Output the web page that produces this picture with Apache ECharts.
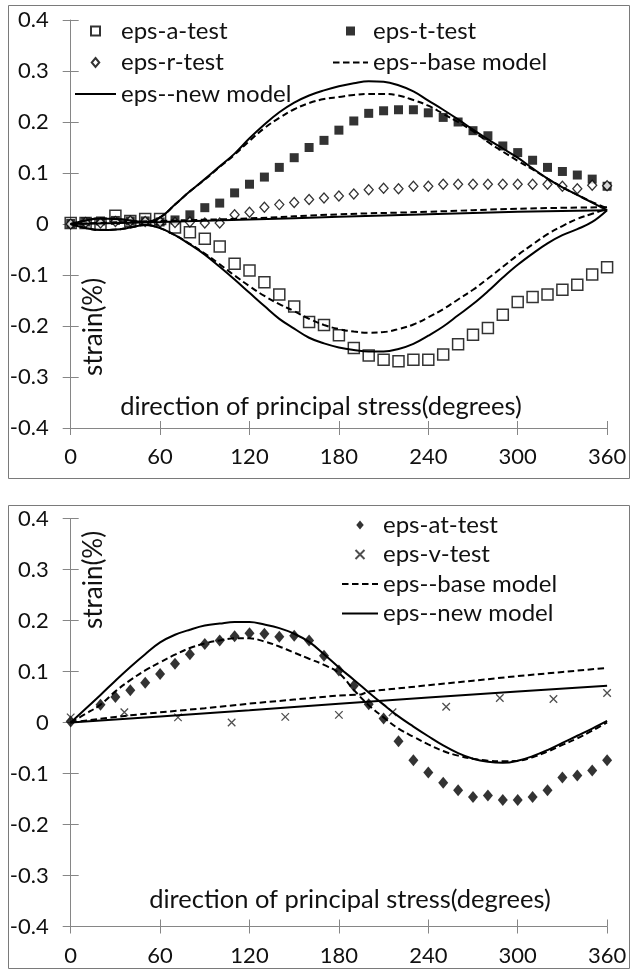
<!DOCTYPE html>
<html><head><meta charset="utf-8">
<script src="https://cdn.jsdelivr.net/npm/echarts@6/dist/echarts.min.js"></script>
<style>html,body{margin:0;padding:0;background:#fff}#c{width:632px;height:972px}</style>
</head><body><div id="c"></div>
<script>
// ---------- DATA ----------
const xTicks = [0, 60, 120, 180, 240, 300, 360];
const yTicks = [-0.4, -0.3, -0.2, -0.1, 0, 0.1, 0.2, 0.3, 0.4];

// top chart: tests every 10 degrees
const topX = [0,10,20,30,40,50,60,70,80,90,100,110,120,130,140,150,160,170,180,190,200,210,220,230,240,250,260,270,280,290,300,310,320,330,340,350,360];
const epsATest = [0.002,0.002,0,0.016,0.006,0.01,0.01,-0.007,-0.016,-0.029,-0.044,-0.078,-0.091,-0.114,-0.138,-0.162,-0.192,-0.198,-0.218,-0.243,-0.258,-0.266,-0.269,-0.266,-0.266,-0.256,-0.236,-0.217,-0.204,-0.178,-0.153,-0.143,-0.138,-0.129,-0.119,-0.099,-0.085];
const epsTTest = [0.001,0.004,0.006,0.007,0.006,0.006,0.004,0.008,0.018,0.032,0.041,0.061,0.078,0.092,0.111,0.13,0.15,0.164,0.184,0.202,0.217,0.222,0.224,0.224,0.218,0.209,0.2,0.183,0.173,0.153,0.14,0.125,0.111,0.103,0.096,0.088,0.074];
const epsRTest = [0,0.003,0.002,0.005,0.006,0.005,0.004,0.003,0.004,0.002,0.002,0.018,0.023,0.033,0.038,0.042,0.048,0.051,0.055,0.059,0.067,0.07,0.069,0.074,0.074,0.078,0.078,0.078,0.078,0.078,0.078,0.078,0.078,0.074,0.069,0.076,0.075];

// top chart model curves (same angle grid)
const newT  = [0,0.007,0.011,0.01,0.007,0.004,0.013,0.038,0.064,0.088,0.113,0.138,0.168,0.195,0.219,0.238,0.252,0.262,0.27,0.276,0.28,0.279,0.272,0.26,0.242,0.224,0.205,0.185,0.166,0.148,0.13,0.109,0.089,0.072,0.057,0.042,0.027];
const baseT = [0,0.007,0.011,0.01,0.007,0.004,0.013,0.038,0.064,0.087,0.112,0.136,0.163,0.188,0.208,0.225,0.237,0.245,0.249,0.253,0.255,0.255,0.252,0.243,0.232,0.216,0.2,0.182,0.161,0.142,0.124,0.107,0.089,0.072,0.057,0.043,0.031];
const newA  = [0,-0.008,-0.012,-0.011,-0.007,-0.002,-0.008,-0.022,-0.04,-0.06,-0.084,-0.109,-0.135,-0.161,-0.186,-0.205,-0.223,-0.234,-0.242,-0.247,-0.25,-0.25,-0.245,-0.235,-0.219,-0.201,-0.179,-0.157,-0.132,-0.105,-0.08,-0.058,-0.038,-0.022,-0.01,0.004,0.027];
const baseA = [0,-0.008,-0.012,-0.011,-0.007,-0.002,-0.008,-0.022,-0.039,-0.058,-0.079,-0.101,-0.122,-0.141,-0.157,-0.171,-0.186,-0.198,-0.206,-0.211,-0.213,-0.212,-0.206,-0.197,-0.183,-0.167,-0.148,-0.129,-0.107,-0.084,-0.061,-0.04,-0.02,-0.004,0.01,0.02,0.03];
const rModelX = [0,60,120,180,240,300,360];
const newR  = [0,0.004,0.009,0.014,0.019,0.024,0.027];
const baseR = [0,0.006,0.011,0.019,0.024,0.03,0.033];

// bottom chart tests
const atX = [0,20,30,40,50,60,70,80,90,100,110,120,130,140,150,160,170,180,190,200,210,220,230,240,250,260,270,280,290,300,310,320,330,340,350,360];
const epsAtTest = [0.002,0.035,0.05,0.063,0.078,0.095,0.115,0.134,0.154,0.161,0.169,0.175,0.174,0.168,0.17,0.161,0.131,0.102,0.072,0.036,0.008,-0.037,-0.074,-0.098,-0.118,-0.133,-0.146,-0.143,-0.152,-0.152,-0.146,-0.133,-0.108,-0.104,-0.094,-0.074];
const vX = [0,36,72,108,144,180,216,252,288,324,360];
const epsVTest = [0.01,0.02,0.01,0,0.011,0.015,0.02,0.031,0.048,0.046,0.058];

// bottom chart model curves
const botX = topX;
const newAt  = [0,0.027,0.054,0.082,0.109,0.134,0.157,0.172,0.182,0.19,0.194,0.197,0.197,0.192,0.185,0.174,0.158,0.134,0.108,0.084,0.059,0.035,0.012,-0.008,-0.027,-0.045,-0.06,-0.071,-0.077,-0.079,-0.075,-0.066,-0.054,-0.04,-0.026,-0.012,0.003];
const baseAt = [0,0.017,0.035,0.061,0.083,0.102,0.118,0.133,0.146,0.155,0.161,0.165,0.165,0.159,0.149,0.137,0.125,0.113,0.097,0.064,0.034,0.01,-0.012,-0.028,-0.043,-0.056,-0.065,-0.071,-0.075,-0.076,-0.075,-0.068,-0.057,-0.044,-0.031,-0.016,0];
const baseVX = [0,30,60,90,120,150,180,195,200,240,270,300,330,360];
const baseV  = [0,0.011,0.02,0.028,0.037,0.045,0.053,0.055,0.061,0.073,0.082,0.091,0.099,0.107];
const newVX = [0,60,120,180,240,300,360];
const newV  = [0,0.012,0.024,0.037,0.049,0.061,0.072];

// ---------- CHART ----------
const pair = (xs, ys) => xs.map((x, i) => [x, ys[i]]);
const FONT = 'Lato';
const TXT = '#111';
const AX = '#868686';

function xAx(grid, main) {
  return {
    type: 'value', gridIndex: grid, min: 0, max: 360, interval: 60, position: 'bottom',
    axisLine: { show: main, onZero: false, lineStyle: { color: AX, width: 1 } },
    axisTick: { show: true, inside: !main, length: 7, lineStyle: { color: AX } },
    axisLabel: { show: main, margin: 18, fontFamily: FONT, fontSize: 22, color: TXT },
    splitLine: { show: false }
  };
}
function yAx(grid, main) {
  return {
    type: 'value', gridIndex: grid, min: -0.4, max: 0.4, interval: 0.1, position: 'left',
    axisLine: { show: main, onZero: false, lineStyle: { color: AX, width: 1 } },
    axisTick: { show: true, inside: !main, length: 8, lineStyle: { color: AX } },
    axisLabel: { show: main, margin: 22, fontFamily: FONT, fontSize: 22, color: TXT,
      formatter: v => String(Math.round(v * 10) / 10) },
    splitLine: { show: false }
  };
}

const SQ = 'path://M0,0H10V10H0Z';
const DI = 'path://M5,0L10,6L5,12L0,6Z';
const CR = 'path://M0,0L10,10M10,0L0,10';
const openSq = { symbol: SQ, symbolSize: 11, itemStyle: { color: '#fff', borderColor: '#000', borderWidth: 1.5 } };
const fillSq = { symbol: SQ, symbolSize: 9, itemStyle: { color: '#000' } };
const openDi = { symbol: DI, symbolSize: [9, 10], itemStyle: { color: '#fff', borderColor: '#000', borderWidth: 1.3 } };
const fillDi = { symbol: DI, symbolSize: [10, 12], itemStyle: { color: '#000' } };
const cross = { symbol: CR, symbolSize: 7.5, itemStyle: { color: 'none', borderColor: '#222', borderWidth: 1.3 } };

function sc(name, xi, xs, ys, st) {
  return Object.assign({ type: 'scatter', name, xAxisIndex: xi, yAxisIndex: xi, data: pair(xs, ys), z: 3, animation: false }, st);
}
function ln(name, xi, xs, ys, dashed, smooth) {
  return { type: 'line', name, xAxisIndex: xi, yAxisIndex: xi, data: pair(xs, ys), symbol: 'none',
    smooth: smooth ? 0.4 : false, z: 4, animation: false,
    lineStyle: { color: '#000', width: 2, type: dashed ? [6.5, 3.5] : 'solid' },
    itemStyle: { color: '#000' } };
}

const legendText = { fontFamily: FONT, fontSize: 24, color: TXT, lineHeight: 24 };
const noDot = { opacity: 0 };
const lgBase = { name: 'eps--base model', itemStyle: noDot };
const lgNew = { name: 'eps--new model', itemStyle: noDot };

const option = {
  backgroundColor: '#fff',
  animation: false,
  grid: [
    { left: 70.7, top: 20, width: 536.4, height: 408 },
    { left: 70.7, top: 518.5, width: 536.4, height: 408 }
  ],
  xAxis: [xAx(0, true), xAx(0, false), xAx(1, true), xAx(1, false)],
  yAxis: [yAx(0, true), yAx(0, false), yAx(1, true), yAx(1, false)],
  legend: [
    { orient: 'vertical', left: 69, top: 14, itemWidth: 41, itemHeight: 9, itemGap: 7.5, symbolKeepAspect: true,
      data: ['eps-a-test', 'eps-r-test', lgNew], textStyle: legendText, selectedMode: false },
    { orient: 'vertical', left: 327, top: 14, itemWidth: 35, itemHeight: 9, itemGap: 7.5, symbolKeepAspect: true,
      data: ['eps-t-test', lgBase], textStyle: legendText, selectedMode: false },
    { orient: 'vertical', left: 336, top: 508, itemWidth: 36, itemHeight: 9, itemGap: 5.5, symbolKeepAspect: true,
      data: ['eps-at-test', 'eps-v-test', lgBase, lgNew], textStyle: legendText, selectedMode: false }
  ],
  graphic: [
    { type: 'rect', shape: { x: 8.5, y: 5.5, width: 621, height: 473 }, style: { fill: 'none', stroke: '#7a7a7a', lineWidth: 1 }, silent: true },
    { type: 'rect', shape: { x: 8.5, y: 505.5, width: 621, height: 463 }, style: { fill: 'none', stroke: '#7a7a7a', lineWidth: 1 }, silent: true },
    { type: 'text', x: 94, y: 327, rotation: Math.PI / 2, style: { text: 'strain(%)', font: '26px Lato', fill: TXT, align: 'center', verticalAlign: 'middle' } },
    { type: 'text', x: 94, y: 580, rotation: Math.PI / 2, style: { text: 'strain(%)', font: '26px Lato', fill: TXT, align: 'center', verticalAlign: 'middle' } },
    { type: 'text', x: 321, y: 407, style: { text: 'direction of principal stress(degrees)', font: '25.5px Lato', fill: TXT, align: 'center', verticalAlign: 'middle' } },
    { type: 'text', x: 350, y: 900, style: { text: 'direction of principal stress(degrees)', font: '25.5px Lato', fill: TXT, align: 'center', verticalAlign: 'middle' } }
  ],
  series: [
    sc('eps-a-test', 0, topX, epsATest, openSq),
    sc('eps-t-test', 0, topX, epsTTest, fillSq),
    sc('eps-r-test', 0, topX, epsRTest, openDi),
    ln('eps--base model', 0, topX, baseT, true, true),
    ln('eps--base model', 0, topX, baseA, true, true),
    ln('eps--base model', 0, rModelX, baseR, true, true),
    ln('eps--new model', 0, topX, newT, false, true),
    ln('eps--new model', 0, topX, newA, false, true),
    ln('eps--new model', 0, rModelX, newR, false, true),
    sc('eps-at-test', 2, atX, epsAtTest, fillDi),
    sc('eps-v-test', 2, vX, epsVTest, cross),
    ln('eps--base model', 2, botX, baseAt, true, true),
    ln('eps--base model', 2, baseVX, baseV, true, false),
    ln('eps--new model', 2, botX, newAt, false, true),
    ln('eps--new model', 2, newVX, newV, false, false)
  ]
};
const chart = echarts.init(document.getElementById('c'), null, { renderer: 'canvas' });
chart.setOption(option);
</script>
</body></html>
